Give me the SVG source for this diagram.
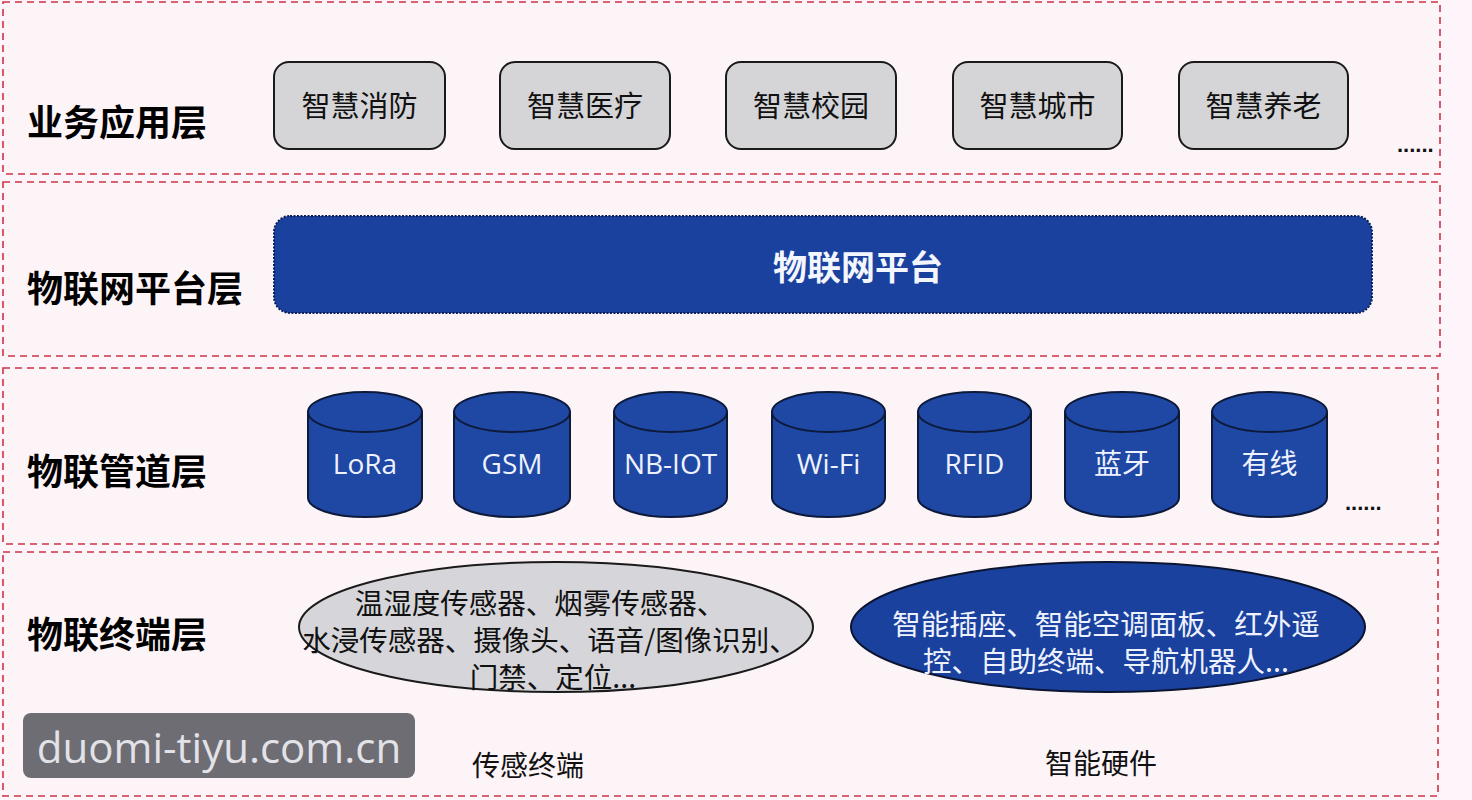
<svg xmlns="http://www.w3.org/2000/svg" width="1472" height="800" viewBox="0 0 1472 800">
<defs>
<style>
.layer{fill:#fdf4f8;stroke:#cc3446;stroke-width:1.6;stroke-dasharray:7 5}
.lbl{font-family:"Noto Sans CJK SC","Noto Sans",sans-serif;font-weight:700;font-size:36px;fill:#000}
.app rect{fill:#d5d5d8;stroke:#1a1a1a;stroke-width:2}
.app text{font-family:"Noto Sans CJK SC","Noto Sans",sans-serif;font-size:29px;fill:#111;text-anchor:middle;dominant-baseline:central}
.cyl path{fill:#1f47a4;stroke:#0d1a3a;stroke-width:2}
.cyl text{font-family:"Open Sans","Noto Sans CJK SC",sans-serif;font-size:28px;fill:#eef2ff;text-anchor:middle;dominant-baseline:central}
.t1{font-family:"Noto Sans CJK SC","Noto Sans",sans-serif;font-size:28.500px;fill:#111;text-anchor:middle}
.t3{font-family:"Noto Sans CJK SC","Noto Sans",sans-serif;font-size:28px;fill:#111;text-anchor:middle}
.t2{font-family:"Noto Sans CJK SC","Noto Sans",sans-serif;font-size:28.500px;fill:#eef2ff;text-anchor:middle}
.dots{font-family:"Liberation Sans",sans-serif;font-size:22px;fill:#111;font-weight:700}
</style>
</defs>
<rect width="1472" height="800" fill="#fdf5f9"/>
<g id="layers">
<rect class="layer" x="3" y="2" width="1437" height="172"/>
<rect class="layer" x="3" y="182" width="1437" height="174"/>
<rect class="layer" x="3" y="368" width="1435" height="176"/>
<rect class="layer" x="3" y="552" width="1435" height="244"/>
</g>
<g id="layer-labels">
<text class="lbl" x="27" y="120" dominant-baseline="central">业务应用层</text>
<text class="lbl" x="27" y="286" dominant-baseline="central">物联网平台层</text>
<text class="lbl" x="27" y="469" dominant-baseline="central">物联管道层</text>
<text class="lbl" x="27" y="632" dominant-baseline="central">物联终端层</text>
</g>
<g id="app-1" class="app"><rect x="274" y="62" width="171" height="87" rx="15"/><text x="359.500" y="104">智慧消防</text></g>
<g id="app-2" class="app"><rect x="500" y="62" width="170" height="87" rx="15"/><text x="585" y="104">智慧医疗</text></g>
<g id="app-3" class="app"><rect x="726" y="62" width="170" height="87" rx="15"/><text x="811" y="104">智慧校园</text></g>
<g id="app-4" class="app"><rect x="953" y="62" width="169" height="87" rx="15"/><text x="1037.500" y="104">智慧城市</text></g>
<g id="app-5" class="app"><rect x="1179" y="62" width="169" height="87" rx="15"/><text x="1263.500" y="104">智慧养老</text></g>
<text class="dots" x="1397" y="152">......</text>
<g id="platform">
<rect x="274" y="216" width="1098" height="97" rx="16" fill="#1a419e" stroke="#0b1f5a" stroke-width="2" stroke-dasharray="2 1.5"/>
<text x="858" y="265" font-family="'Noto Sans CJK SC',sans-serif" font-weight="700" font-size="34" fill="#f4f6ff" text-anchor="middle" dominant-baseline="central">物联网平台</text>
</g>
<g id="cyl-lora" class="cyl"><path d="M308 412 A57 20 0 0 1 422 412 V498 A57 19 0 0 1 308 498 Z"/><path d="M308 412 A57 20 0 0 0 422 412" fill="none"/><text x="365" y="463">LoRa</text></g>
<g id="cyl-gsm" class="cyl"><path d="M454 412 A58 20 0 0 1 570 412 V498 A58 19 0 0 1 454 498 Z"/><path d="M454 412 A58 20 0 0 0 570 412" fill="none"/><text x="512" y="463">GSM</text></g>
<g id="cyl-nbiot" class="cyl"><path d="M614 412 A56.500 20 0 0 1 727 412 V498 A56.500 19 0 0 1 614 498 Z"/><path d="M614 412 A56.500 20 0 0 0 727 412" fill="none"/><text x="670.500" y="463">NB-IOT</text></g>
<g id="cyl-wifi" class="cyl"><path d="M772 412 A56.500 20 0 0 1 885 412 V498 A56.500 19 0 0 1 772 498 Z"/><path d="M772 412 A56.500 20 0 0 0 885 412" fill="none"/><text x="828.500" y="463">Wi-Fi</text></g>
<g id="cyl-rfid" class="cyl"><path d="M918 412 A56.500 20 0 0 1 1031 412 V498 A56.500 19 0 0 1 918 498 Z"/><path d="M918 412 A56.500 20 0 0 0 1031 412" fill="none"/><text x="974.500" y="463">RFID</text></g>
<g id="cyl-bt" class="cyl"><path d="M1065 412 A57 20 0 0 1 1179 412 V498 A57 19 0 0 1 1065 498 Z"/><path d="M1065 412 A57 20 0 0 0 1179 412" fill="none"/><text x="1122" y="463">蓝牙</text></g>
<g id="cyl-wired" class="cyl"><path d="M1212 412 A57.500 20 0 0 1 1327 412 V498 A57.500 19 0 0 1 1212 498 Z"/><path d="M1212 412 A57.500 20 0 0 0 1327 412" fill="none"/><text x="1269.500" y="463">有线</text></g>
<text class="dots" x="1345" y="510">......</text>
<g id="sensor-terminal">
<ellipse cx="556" cy="627" rx="257" ry="65" fill="#d6d6da" stroke="#1a1a1a" stroke-width="2"/>
<text class="t1" x="540" y="614">温湿度传感器、烟雾传感器、</text>
<text class="t1" x="550" y="651">水浸传感器、摄像头、语音/图像识别、</text>
<text class="t1" x="553" y="688">门禁、定位...</text>
<text class="t3" x="528" y="776">传感终端</text>
</g>
<g id="smart-hardware">
<ellipse cx="1108" cy="627" rx="257" ry="65" fill="#1a419e" stroke="#0b1530" stroke-width="2"/>
<text class="t2" x="1106" y="635">智能插座、智能空调面板、红外遥</text>
<text class="t2" x="1106" y="672">控、自助终端、导航机器人...</text>
<text class="t3" x="1101" y="774">智能硬件</text>
</g>
<g id="connectors"></g>
<g id="watermark">
<rect x="23" y="713" width="392" height="65" rx="8" fill="#6d6d73"/>
<text x="219" y="746" font-family="'Open Sans','Noto Sans',sans-serif" font-size="42" fill="#e2e2e8" text-anchor="middle" dominant-baseline="central">duomi-tiyu.com.cn</text>
</g>
</svg>
